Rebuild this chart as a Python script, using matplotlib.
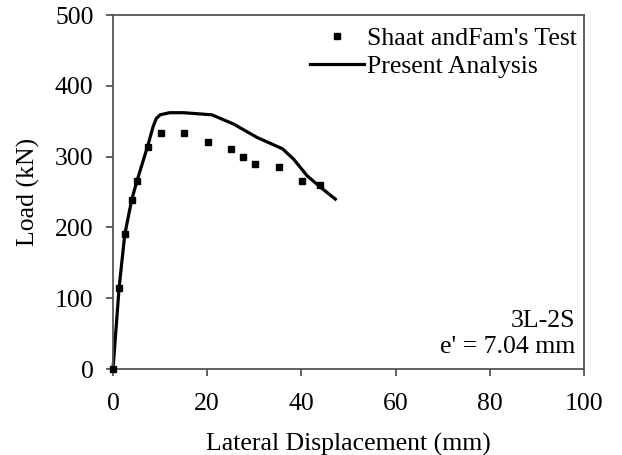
import matplotlib
matplotlib.use("Agg")
import matplotlib.pyplot as plt

# Test data (Shaat and Fam)
test_disp = [0, 1.3, 2.5, 4.0, 5.2, 7.5, 10.1, 15.1, 20.1, 25.1, 27.5, 30.1, 35.2, 40.1, 44.0]
test_load = [0, 115, 190, 239, 265, 314, 334, 334, 320, 311, 300, 290, 285, 265, 260]

# Present analysis
ana_disp = [0, 1.3, 2.5, 4.0, 5.2, 7.5, 8.5, 9.2, 10.0, 12.0, 15.0, 21.0, 25.6, 30.6, 36.0, 38.4, 41.2, 44.0, 47.2]
ana_load = [0, 115, 190, 240, 268, 318, 342, 354, 359, 362, 362, 359, 346, 327, 311, 296, 273, 257, 240]

xticks = [0, 20, 40, 60, 80, 100]
yticks = [0, 100, 200, 300, 400, 500]

plt.rcParams['font.family'] = ['Liberation Serif', 'DejaVu Serif']
FS = 18.5

fig = plt.figure(figsize=(6.22, 4.55), dpi=100)
ax = fig.add_axes([113/622, 1-369/455, (584-113)/622, (369-15)/455])

ax.plot(ana_disp, ana_load, color='black', lw=2.3, label='Present Analysis', zorder=2,
        clip_on=False)
ax.plot(test_disp, test_load, ls='none', marker='s', ms=5, color='black',
        label="Shaat andFam's Test", zorder=3, clip_on=False)

ax.set_xlim(0, 100)
ax.set_ylim(0, 500)
ax.set_xticks(xticks)
ax.set_yticks(yticks)
for s in ax.spines.values():
    s.set_color('#555555')
    s.set_linewidth(1.3)
ax.tick_params(direction='out', length=5, width=1.3, color='#555555',
               labelsize=FS)
ax.tick_params(axis='x', pad=12)
ax.tick_params(axis='y', pad=9)

ax.set_xlabel('Lateral Displacement (mm)', fontsize=FS, labelpad=13)
ax.set_ylabel('Load (kN)', fontsize=FS, labelpad=11)

h, l = ax.get_legend_handles_labels()
leg = ax.legend([h[1], h[0]], [l[1], l[0]], loc='upper left',
                bbox_to_anchor=(310/622, 1-27/455), bbox_transform=fig.transFigure,
                frameon=False, fontsize=FS, handlelength=2.1, handletextpad=0.12,
                labelspacing=0.2, borderpad=0, borderaxespad=0, numpoints=1)

ax.text(575/622, 1-327/455, '3L-2S', transform=fig.transFigure, fontsize=FS,
        ha='right', va='baseline')
ax.text(575/622, 1-353/455, "e' = 7.04 mm", transform=fig.transFigure, fontsize=FS,
        ha='right', va='baseline')

fig.savefig('out.png', dpi=100)
